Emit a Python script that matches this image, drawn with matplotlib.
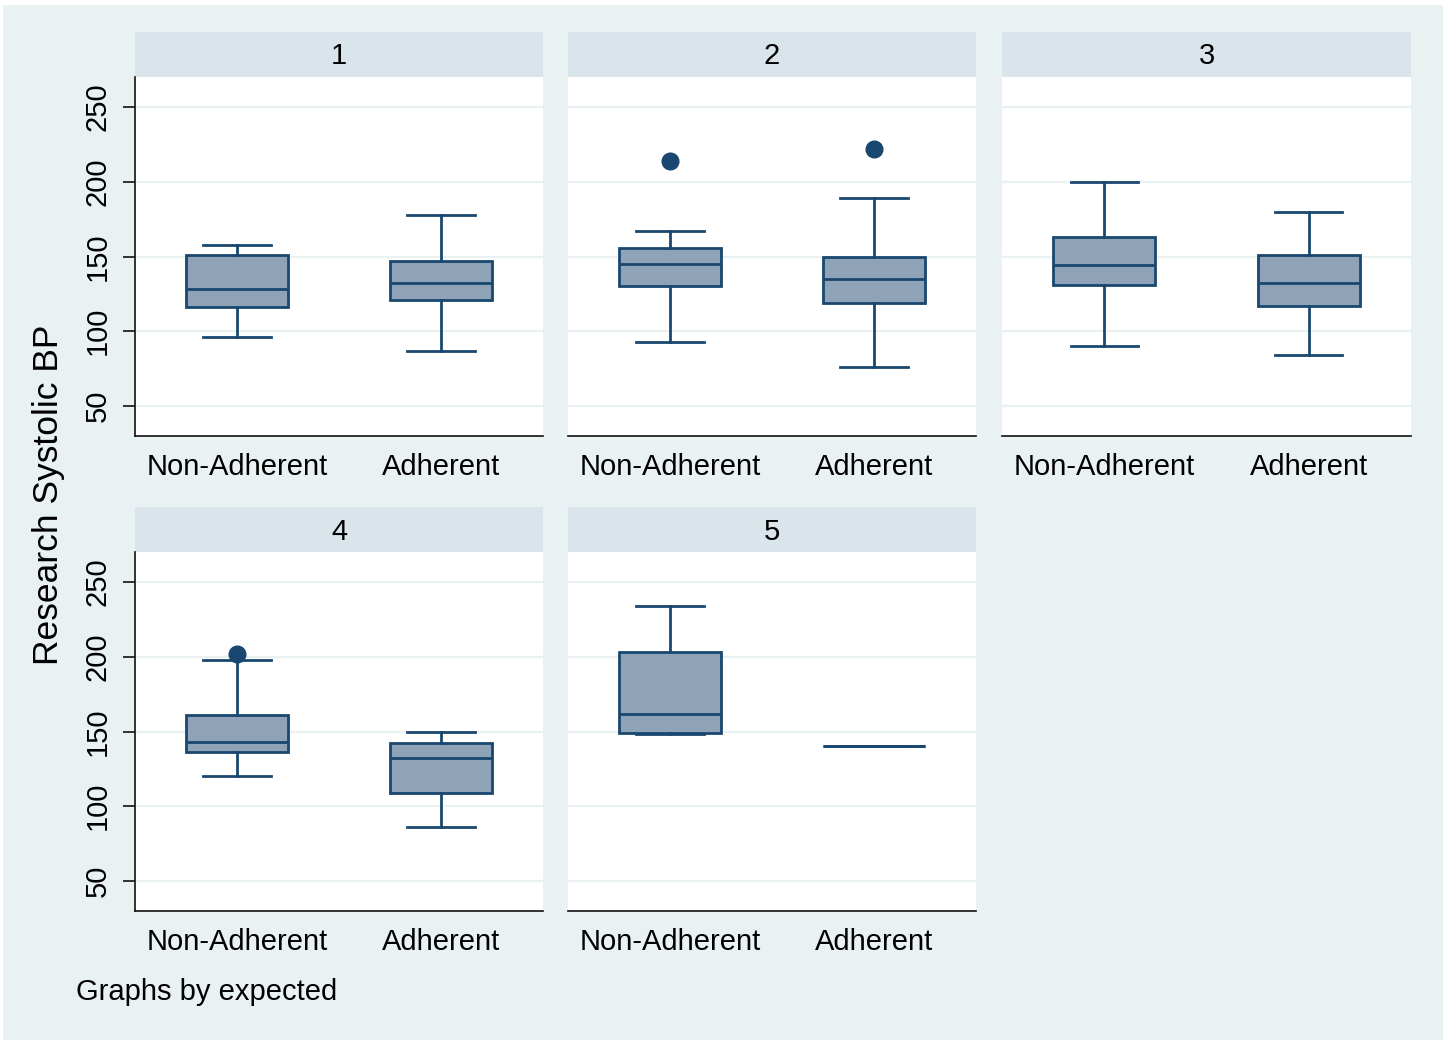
import matplotlib
matplotlib.use("Agg")
import matplotlib.pyplot as plt
from matplotlib.patches import Rectangle

plt.rcParams['font.family'] = ['Liberation Sans', 'DejaVu Sans']

# Facet labels (expected) and box groups
panels = ["1", "2", "3", "4", "5"]
groups = ["Non-Adherent", "Adherent"]

# Box statistics per panel: [Non-Adherent, Adherent]
whisker_low = [[96, 87], [93, 76], [90, 84], [120, 86], [148.5, 140]]
q1 = [[116, 121], [130, 119], [131, 117], [136, 109], [149, 140]]
median = [[128, 132], [145, 135], [144, 132], [143, 132], [162, 140]]
q3 = [[151, 147], [156, 150], [163, 151], [161, 142], [203, 140]]
whisker_high = [[158, 178], [167, 189], [200, 180], [198, 150], [234, 140]]
outliers = [[[], []], [[214], [222]], [[], []], [[202], []], [[], []]]

y_ticks = [50, 100, 150, 200, 250]

W, H = 1443, 1040
BG = "#EAF1F3"
STRIP = "#D9E5EB"
NAVY = "#1A476F"
FILL = "#8EA3B8"

fig = plt.figure(figsize=(W / 100, H / 100), dpi=100, facecolor="white")
fig.patches.append(Rectangle((3 / W, 0), 1 - 3 / W, 1 - 5 / H,
                             transform=fig.transFigure, facecolor=BG,
                             edgecolor="none", zorder=-10))

col_x = [(135, 543), (568, 976), (1002, 1411)]
row_y = [(32, 77, 436), (507, 552, 911)]


def fig_rect(x0, x1, y0, y1):
    return [x0 / W, 1 - y1 / H, (x1 - x0) / W, (y1 - y0) / H]


for i, name in enumerate(panels):
    r, c = divmod(i, 3)
    x0, x1 = col_x[c]
    ys, y0, y1 = row_y[r]

    # header strip with facet label
    fig.patches.append(Rectangle((x0 / W, 1 - y0 / H), (x1 - x0) / W, (y0 - ys) / H,
                                 transform=fig.transFigure, facecolor=STRIP,
                                 edgecolor="none", zorder=-5))
    fig.text((x0 + x1) / 2 / W, 1 - ((ys + y0) / 2 + 2) / H, name, ha="center",
             va="center", fontsize=21, color="black")

    ax = fig.add_axes(fig_rect(x0, x1, y0, y1))
    ax.set_facecolor("white")

    stats = []
    for g in range(2):
        stats.append(dict(label=groups[g], med=median[i][g], q1=q1[i][g],
                          q3=q3[i][g], whislo=whisker_low[i][g],
                          whishi=whisker_high[i][g], fliers=outliers[i][g]))

    ax.bxp(stats, positions=[1, 2], widths=0.5, capwidths=0.33,
           patch_artist=True, showfliers=True,
           boxprops=dict(facecolor=FILL, edgecolor=NAVY, linewidth=2.0),
           medianprops=dict(color=NAVY, linewidth=2.0),
           whiskerprops=dict(color=NAVY, linewidth=2.0),
           capprops=dict(color=NAVY, linewidth=2.0),
           flierprops=dict(marker="o", markerfacecolor=NAVY,
                           markeredgecolor=NAVY, markersize=12))

    ax.set_xlim(0.5, 2.5)
    ax.set_ylim(30, 270)
    ax.set_yticks(y_ticks)
    ax.grid(axis="y", color=BG, linewidth=1.6, zorder=0)
    ax.set_axisbelow(True)

    ax.spines["top"].set_visible(False)
    ax.spines["right"].set_visible(False)
    ax.spines["bottom"].set_color("#111111")
    ax.spines["bottom"].set_linewidth(1.2)

    ax.set_xticks([1, 2])
    ax.set_xticklabels(groups, fontsize=21)
    ax.tick_params(axis="x", length=0, pad=12.5)

    if c == 0:
        ax.spines["left"].set_color("#111111")
        ax.spines["left"].set_linewidth(1.2)
        ax.tick_params(axis="y", direction="out", length=8.6, width=1.1,
                       pad=8, labelsize=21, labelrotation=90)
        for lab in ax.get_yticklabels():
            lab.set_verticalalignment("center")
    else:
        ax.spines["left"].set_visible(False)
        ax.tick_params(axis="y", length=0, labelleft=False)

fig.text(49 / W, 1 - 495 / H, "Research Systolic BP", rotation=90,
         ha="center", va="center", fontsize=25.5)
fig.text(76 / W, 1 - 992 / H, "Graphs by expected", ha="left",
         va="center", fontsize=21)

fig.savefig("out.png", dpi=100, facecolor=fig.get_facecolor())
